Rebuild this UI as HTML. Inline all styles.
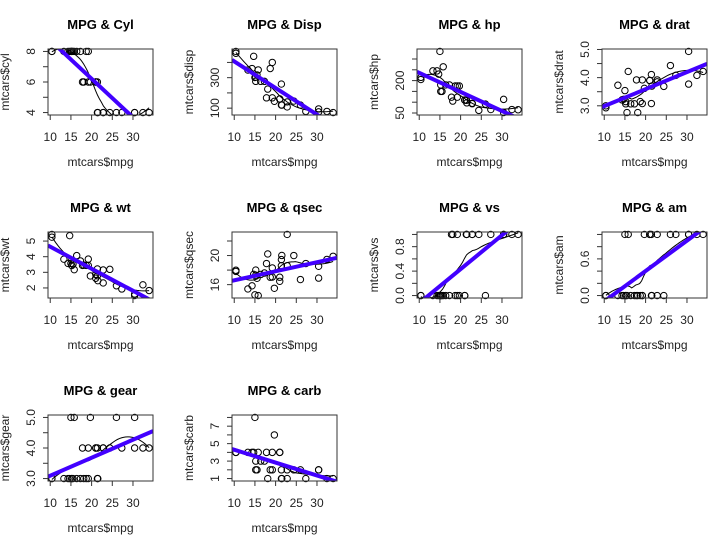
<!DOCTYPE html>
<html><head><meta charset="utf-8">
<style>
html,body{margin:0;padding:0;background:#fff;}
svg{display:block;font-family:"Liberation Sans",Arial,sans-serif;}
</style></head>
<body>
<svg id="chart" width="722" height="542" viewBox="0 0 722 542" xmlns="http://www.w3.org/2000/svg"></svg>
<script>
const mpg = [21,21,22.8,21.4,18.7,18.1,14.3,24.4,22.8,19.2,17.8,16.4,17.3,15.2,10.4,10.4,14.7,32.4,30.4,33.9,21.5,15.5,15.2,13.3,19.2,27.3,26,30.4,15.8,19.7,15,21.4];
const cyl = [6,6,4,6,8,6,8,4,4,6,6,8,8,8,8,8,8,4,4,4,4,8,8,8,8,4,4,4,8,6,8,4];
const disp = [160,160,108,258,360,225,360,146.7,140.8,167.6,167.6,275.8,275.8,275.8,472,460,440,78.7,75.7,71.1,120.1,318,304,350,400,79,120.3,95.1,351,145,301,121];
const hp = [110,110,93,110,175,105,245,62,95,123,123,180,180,180,205,215,230,66,52,65,97,150,150,245,175,66,91,113,264,175,335,109];
const drat = [3.9,3.9,3.85,3.08,3.15,2.76,3.21,3.69,3.92,3.92,3.92,3.07,3.07,3.07,2.93,3,3.23,4.08,4.93,4.22,3.7,2.76,3.15,3.73,3.08,4.08,4.43,3.77,4.22,3.62,3.54,4.11];
const wt = [2.62,2.875,2.32,3.215,3.44,3.46,3.57,3.19,3.15,3.44,3.44,4.07,3.73,3.78,5.25,5.424,5.345,2.2,1.615,1.835,2.465,3.52,3.435,3.84,3.845,1.935,2.14,1.513,3.17,2.77,3.57,2.78];
const qsec = [16.46,17.02,18.61,19.44,17.02,20.22,15.84,20,22.9,18.3,18.9,17.4,17.6,18,17.98,17.82,17.42,19.47,18.52,19.9,20.01,16.87,17.3,15.41,17.05,18.9,16.7,16.9,14.5,15.5,14.6,18.6];
const vs = [0,0,1,1,0,1,0,1,1,1,1,0,0,0,0,0,0,1,1,1,1,0,0,0,0,1,0,1,0,0,0,1];
const am = [1,1,1,0,0,0,0,0,0,0,0,0,0,0,0,0,0,1,1,1,0,0,0,0,0,1,1,1,1,1,1,1];
const gear = [4,4,4,3,3,3,3,4,4,4,4,3,3,3,3,3,3,4,4,4,3,3,3,3,3,4,5,5,5,5,5,4];
const carb = [4,4,1,1,2,1,4,2,2,4,4,3,3,3,4,4,4,1,2,1,1,2,2,4,2,1,2,2,4,6,8,2];

const xTicks = [10,15,20,25,30];
const panelNames = ["cyl","disp","hp","drat","wt","qsec","vs","am","gear","carb"];
const panelTitles = ["MPG & Cyl","MPG & Disp","MPG & hp","MPG & drat","MPG & wt","MPG & qsec","MPG & vs","MPG & am","MPG & gear","MPG & carb"];
const panelY = [cyl,disp,hp,drat,wt,qsec,vs,am,gear,carb];
const yTicks = [[4,5,6,7,8],[100,200,300,400],[50,100,150,200,250,300],[3,3.5,4,4.5,5],[2,3,4,5],[16,18,20,22],[0,0.2,0.4,0.6,0.8,1],[0,0.2,0.4,0.6,0.8,1],[3,3.5,4,4.5,5],[1,2,3,4,5,6,7,8]];
const yLabels = [["4","","6","","8"],["100","","300",""],["50","","","200","",""],["3.0","","4.0","","5.0"],["2","3","4","5"],["16","","20",""],["0.0","","0.4","","0.8",""],["0.0","","","0.6","",""],["3.0","","4.0","","5.0"],["1","","3","","5","","7",""]];

const NS="http://www.w3.org/2000/svg";
const svg=document.getElementById("chart");
function mk(tag,attrs,parent){const e=document.createElementNS(NS,tag);for(const k in attrs)e.setAttribute(k,attrs[k]);(parent||svg).appendChild(e);return e;}

const colX=[48,232,417,602], rowY=[49,232,415], W=105, H=66;

function loess(xs,ys,span,grid){
  const n=xs.length,q=Math.floor(span*n),out=[];
  for(const x0 of grid){
    const d=xs.map(x=>Math.abs(x-x0));
    const sd=[...d].sort((a,b)=>a-b);let h=sd[q-1];if(h<=0)h=1e-9;h*=Math.max(1,span);
    let S=[[0,0,0],[0,0,0],[0,0,0]],T=[0,0,0];
    for(let i=0;i<n;i++){const u=d[i]/h;if(u>=1)continue;const w=Math.pow(1-u*u*u,3);
      const dx=xs[i]-x0,b=[1,dx,dx*dx];
      for(let a=0;a<3;a++){T[a]+=w*b[a]*ys[i];for(let c=0;c<3;c++)S[a][c]+=w*b[a]*b[c];}}
    const M=S.map((r,i)=>[...r,T[i]]);
    for(let i=0;i<3;i++){let p=i;for(let r=i+1;r<3;r++)if(Math.abs(M[r][i])>Math.abs(M[p][i]))p=r;[M[i],M[p]]=[M[p],M[i]];
      for(let r=0;r<3;r++){if(r===i)continue;const f=M[r][i]/M[i][i];for(let c=i;c<4;c++)M[r][c]-=f*M[i][c];}}
    out.push(M[0][3]/M[0][0]);
  }
  return out;
}

const xmin=Math.min(...mpg),xmax=Math.max(...mpg),xr=xmax-xmin;
const xlo=xmin-0.04*xr,xhi=xmax+0.04*xr;

panelNames.forEach((nm,p)=>{
  const ys=panelY[p];
  const bx=colX[p%4],by=rowY[Math.floor(p/4)];
  const g=mk("g",{});
  
  
  const ymin=Math.min(...ys),ymax=Math.max(...ys),yr=ymax-ymin;
  const ylo=ymin-0.04*yr,yhi=ymax+0.04*yr;
  const sx=v=>bx+(v-xlo)/(xhi-xlo)*W;
  const sy=v=>by+H-(v-ylo)/(yhi-ylo)*H;

  const t=mk("text",{x:bx+W/2,y:by-20,"text-anchor":"middle","font-size":"13","font-weight":"bold",fill:"#000"},g);
  t.textContent=panelTitles[p];
  
  

  const cp=mk("clipPath",{id:"clip"+p},g);mk("rect",{x:bx,y:by,width:W,height:H},cp);

  const xa=mk("g",{stroke:"#333","stroke-width":"1"},g);
  
  
  mk("line",{x1:sx(xTicks[0]),x2:sx(xTicks[xTicks.length-1]),y1:by+H,y2:by+H},xa);
  xTicks.forEach(v=>{
    mk("line",{x1:sx(v),x2:sx(v),y1:by+H,y2:by+H+5},xa);
    const tl=mk("text",{x:sx(v),y:by+H+26,"text-anchor":"middle","font-size":"12",fill:"#222",stroke:"none"},g);
    tl.textContent=v;
    
    
  });
  const xt=mk("text",{x:bx+W/2,y:by+H+51,"text-anchor":"middle","font-size":"12",fill:"#222"},g);
  xt.textContent="mtcars$mpg";
  
  

  const yt=yTicks[p];
  const ya=mk("g",{stroke:"#333","stroke-width":"1"},g);
  
  
  const vis=yt.filter(v=>v>=ylo-1e-9&&v<=yhi+1e-9);
  mk("line",{x1:bx,x2:bx,y1:sy(vis[0]),y2:sy(vis[vis.length-1])},ya);
  yt.forEach((v,i)=>{
    if(v<ylo-1e-9||v>yhi+1e-9)return;
    mk("line",{x1:bx,x2:bx-5,y1:sy(v),y2:sy(v)},ya);
    if(yLabels[p][i]){
      const yl=mk("text",{x:0,y:0,transform:`translate(${bx-13},${sy(v)}) rotate(-90)`,"text-anchor":"middle","font-size":"12",fill:"#222",stroke:"none"},g);
      yl.textContent=yLabels[p][i];
      
      
    }
  });
  const ytt=mk("text",{x:0,y:0,transform:`translate(${bx-39},${by+H/2}) rotate(-90)`,"text-anchor":"middle","font-size":"12",fill:"#222"},g);
  ytt.textContent="mtcars$"+nm;
  
  

  ys.forEach((v,i)=>{
    const c=mk("circle",{cx:sx(mpg[i]),cy:sy(v),r:3.2,fill:"none",stroke:"#000","stroke-width":"1"},g);
    
    
  });

  const grid=[];for(let i=0;i<50;i++)grid.push(xmin+i*xr/49);
  const lo=loess(mpg,ys,0.75,grid);
  const sm=mk("polyline",{points:grid.map((x,i)=>sx(x)+","+sy(lo[i])).join(" "),fill:"none",stroke:"#000","stroke-width":"1","clip-path":`url(#clip${p})`},g);
  
  

  const n=mpg.length,mx=mpg.reduce((a,b)=>a+b)/n,my=ys.reduce((a,b)=>a+b)/n;
  let sxy=0,sxx=0;for(let i=0;i<n;i++){sxy+=(mpg[i]-mx)*(ys[i]-my);sxx+=(mpg[i]-mx)**2;}
  const b=sxy/sxx,a=my-b*mx;
  const rl=mk("line",{x1:sx(xlo),y1:sy(a+b*xlo),x2:sx(xhi),y2:sy(a+b*xhi),stroke:"#4200ff","stroke-width":"4","clip-path":`url(#clip${p})`},g);
  
  

  const box=mk("rect",{x:bx,y:by,width:W,height:H,fill:"none",stroke:"#333","stroke-width":"1"},g);
  
  
});
</script>
</body></html>
